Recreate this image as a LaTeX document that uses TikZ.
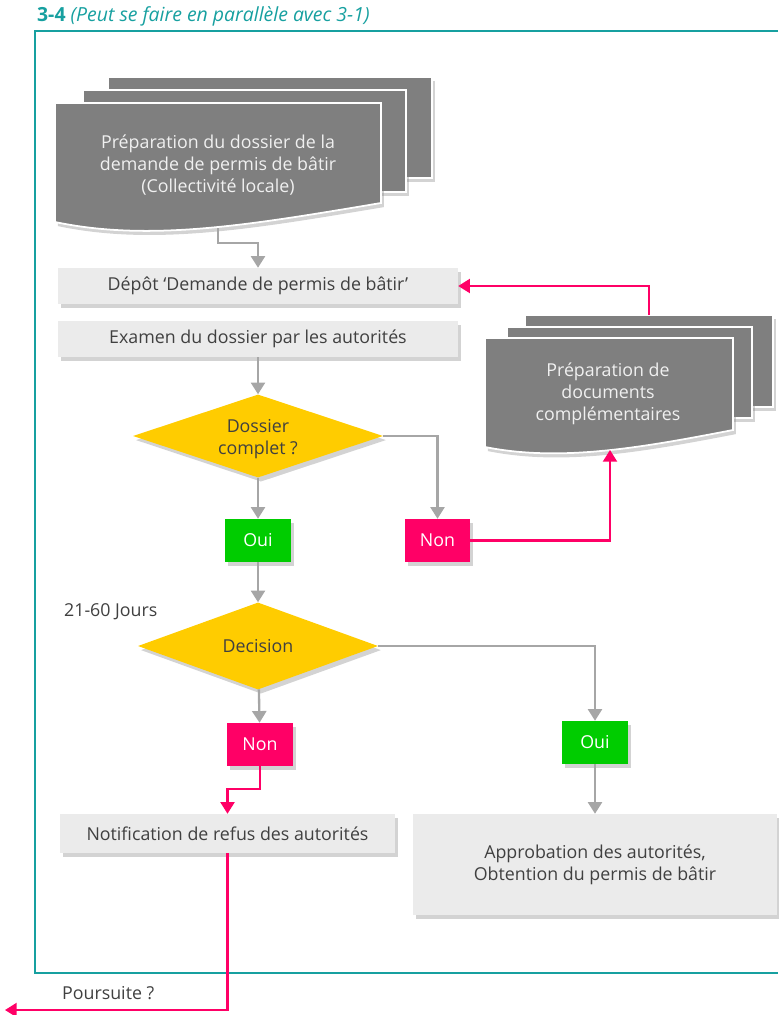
\documentclass[tikz,border=0pt]{standalone}
\usepackage{fontspec}
\setmainfont{Open Sans}
\usetikzlibrary{shapes.geometric, arrows.meta, shadows, positioning}
\definecolor{framecol}{RGB}{23,160,160}
\definecolor{boxgray}{RGB}{235,235,235}
\definecolor{sheetgray}{RGB}{127,127,127}
\definecolor{linegray}{RGB}{166,166,166}
\definecolor{alertpink}{RGB}{255,0,102}
\definecolor{okgreen}{RGB}{0,204,0}
\definecolor{gold}{RGB}{255,204,0}
\definecolor{txtgray}{RGB}{64,64,64}

\begin{document}
\begin{tikzpicture}[x=0.03cm, y=-0.03cm,
  every node/.style={font=\fontsize{15.2}{18.8}\selectfont, text=txtgray},
  shade/.style={drop shadow={shadow xshift=2.5pt, shadow yshift=-3.5pt, opacity=0.35}},
  graybox/.style={fill=boxgray, shade, inner sep=0pt, align=center},
  flag/.style={minimum width=1.98cm, minimum height=1.29cm, inner sep=0pt, text=white, shade},
  yesflag/.style={flag, fill=okgreen},
  noflag/.style={flag, fill=alertpink},
  decide/.style={diamond, fill=gold, inner sep=0pt, shade, align=center},
  sheet/.style={fill=sheetgray, draw=white, line width=1.5pt, shade},
  sheettext/.style={text=white!94!black, align=center},
  flow/.style={draw=linegray, line width=2pt, -{Triangle[length=10pt, width=12pt]}},
  retour/.style={draw=alertpink, line width=1.8pt, -{Triangle[length=10pt, width=12pt]}}
]
  \useasboundingbox (0,0) rectangle (778,1015);

  % Title and frame
  \node[anchor=west, text=framecol, font=\fontsize{16.6}{19}\selectfont] (title) at (33,16)
    {\textbf{3-4} \textit{(Peut se faire en parallèle avec 3-1)}};
  \draw[framecol, line width=1.8pt] (778,31) -- (35,31) -- (35,973) -- (778,973);

  % Document stack: preparation of the file
  \filldraw[sheet] (108,77) rectangle (432,178);
  \filldraw[sheet] (83,90) rectangle (406,192);
  \filldraw[sheet] (55,103) -- (381,103) -- (381,203)
    .. controls (250,225) and (150,242) .. (55,222) -- cycle;
  \node[sheettext] (prep) at (218,165)
    {Préparation du dossier de la\\demande de permis de bâtir\\(Collectivité locale)};
  \coordinate (prepbot) at (218,228);
  \coordinate (prepbend) at (218,243);

  % Document stack: complementary documents
  \filldraw[sheet] (525,315) rectangle (773,407);
  \filldraw[sheet] (507,327) rectangle (752,418);
  \filldraw[sheet] (485,338) -- (733,338) -- (733,430)
    .. controls (640,448) and (560,462) .. (485,447) -- cycle;
  \node[sheettext] (compl) at (608,394)
    {Préparation de\\documents\\complémentaires};
  \coordinate (complbot) at (610,450);
  \coordinate (compltop) at (649,315);

  % Main column
  \node[graybox, minimum width=12cm, minimum height=1.08cm] (depot) at (258,286)
    {Dépôt ‘Demande de permis de bâtir’};
  \node[graybox, minimum width=12cm, minimum height=1.08cm] (examen) at (258,339)
    {Examen du dossier par les autorités};
  \node[decide, minimum width=7.5cm, minimum height=2.49cm] (complet) at (258,436) {};
  \node[align=center] (completlbl) at (258,439) {Dossier\\complet ?};
  \node[yesflag] (oui1) at (258,540.5) {Oui};
  \node[noflag, minimum width=1.95cm] (non1) at (437.5,540.5) {Non};
  \node[anchor=west] (jours) at (60,612) {21-60 Jours};
  \node[decide, minimum width=7.2cm, minimum height=2.61cm] (decision) at (258,646)
    {Decision};
  \node[noflag] (non2) at (260,744.5) {Non};
  \node[yesflag] (oui2) at (595,742.5) {Oui};
  \node[graybox, minimum width=10.05cm, minimum height=1.17cm] (notif) at (227.5,833.5)
    {Notification de refus des autorités};
  \node[graybox, minimum width=10.89cm, minimum height=3.03cm] (approb) at (595,864.5)
    {Approbation des autorités,\\Obtention du permis de bâtir};
  \node[anchor=west] (suite) at (58,993) {Poursuite ?};
  \coordinate (refusbend) at (260,789);
  \coordinate (exit) at (5,1010);

  % Connectors
  \draw[flow] (prepbot) -- (prepbend) -| (depot.north);
  \draw[flow] (examen) -- (complet);
  \draw[flow] (complet) -- (oui1);
  \draw[flow] (complet.east) -| (non1.north);
  \draw[retour] (non1.east) -| (complbot);
  \draw[retour] (compltop) |- (depot.east);
  \draw[flow] (oui1) -- (decision);
  \draw[flow] (decision.east) -| (oui2.north);
  \draw[flow] (decision) -- (non2);
  \draw[retour] (non2.south) -- (refusbend) -| (notif.north);
  \draw[flow] (oui2) -- (approb);
  \draw[retour] (notif.south) |- (exit);
\end{tikzpicture}
\end{document}
